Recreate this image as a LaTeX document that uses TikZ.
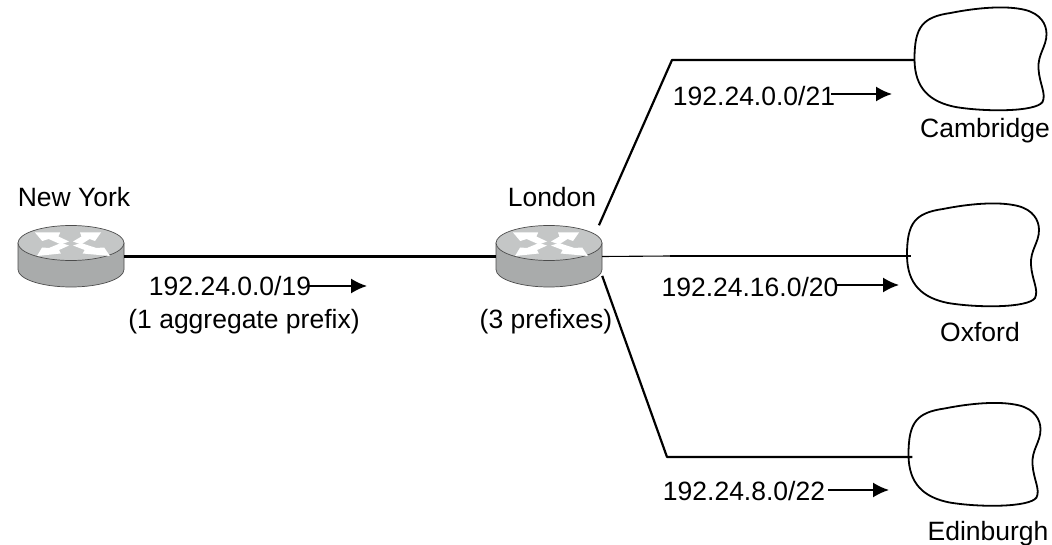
\documentclass[tikz,border=0pt]{standalone}
\usepackage{fontspec}
\setmainfont{Liberation Sans}
\usetikzlibrary{positioning, arrows.meta}
\definecolor{routertop}{HTML}{C4C6C6}
\definecolor{routerside}{HTML}{A9ABAB}
\tikzset{
  every node/.style={font=\fontsize{26.5}{30}\selectfont, inner sep=0pt},
  routerbox/.style={minimum width=106pt, minimum height=62pt},
  sitebox/.style={minimum width=132pt, minimum height=104pt},
  link/.style={line width=2.2pt},
  thinlink/.style={line width=1.1pt},
  flow/.style={line width=1.8pt, -{Latex[length=16pt,width=15pt]}},
  routericon/.pic={
    \draw[fill=routerside, draw=black!70, line width=.7pt] (-53,-13.5) -- (-53,13) arc[start angle=180, end angle=0, x radius=53, y radius=17.5] -- (53,-13.5) -- cycle;
    \draw[fill=routertop, draw=black!70, line width=.7pt] (0,-13.5) ellipse[x radius=53, y radius=17.5];
    \foreach \sx/\tx in {-1/36, 1/30} {
      \fill[white] (\sx*2,-15) -- (\sx*\tx*.35,-20) -- (\sx*\tx*.3,-24) -- (\sx*\tx,-24) -- (\sx*\tx*.8,-15.5) -- (\sx*\tx*.62,-17.5) -- (\sx*10,-12) -- cycle;
    }
    \foreach \sx/\tx in {-1/34, 1/39} {
      \fill[white] (\sx*2,-11) -- (\sx*\tx*.35,-6.5) -- (\sx*\tx*.3,-3) -- (\sx*\tx,-.5) -- (\sx*\tx*.85,-9) -- (\sx*\tx*.65,-8.5) -- (\sx*10,-13.5) -- cycle;
    }
  },
  siteblob/.pic={
    \draw[line width=1.8pt] (-66,0) .. controls (-66,-32) and (-58,-42) .. (-30,-46)
      .. controls (-5,-51) and (25,-54) .. (45,-49)
      .. controls (60,-45) and (66,-35) .. (66,-25)
      .. controls (66,-12) and (57,-5) .. (58,10)
      .. controls (59,25) and (66,35) .. (62,43)
      .. controls (55,53) and (5,53) .. (-25,48)
      .. controls (-50,43) and (-66,30) .. (-66,0) -- cycle;
  }
}

\begin{document}
\begin{tikzpicture}[x=1pt, y=-1pt]
  \useasboundingbox (0,0) rectangle (1052,545);

  \node[routerbox] (newyork) at (71,256.5) {};
  \node[routerbox] (london)  at (549,256.5) {};
  \node[sitebox]   (cambridge) at (980.5,59) {};
  \node[sitebox]   (oxford)    at (973,255) {};
  \node[sitebox]   (edinburgh) at (974.5,454.5) {};
  \pic at (newyork) {routericon};
  \pic at (london) {routericon};
  \pic at (cambridge) {siteblob};
  \pic at (oxford) {siteblob};
  \pic at (edinburgh) {siteblob};

  \node[above=18.5pt of newyork, xshift=3pt] (nylabel) {New York};
  \node[above=18.5pt of london, xshift=3pt] (londonlabel) {London};
  \node at (985,131) (camlabel) {Cambridge};
  \node at (980,332) (oxflabel) {Oxford};
  \node at (988,534) (edilabel) {Edinburgh};

  \node at (230,286) (nyprefix) {192.24.0.0/19};
  \node at (244,321.5) (nycount) {(1 aggregate prefix)};
  \node at (546,321.5) (londoncount) {(3 prefixes)};
  \node at (754,96) (camprefix) {192.24.0.0/21};
  \node at (750,287) (oxfprefix) {192.24.16.0/20};
  \node at (744,491) (ediprefix) {192.24.8.0/22};

  \coordinate (camturn) at (672,60);
  \coordinate (oxfturn) at (670,256);
  \coordinate (editurn) at (667,457);
  \coordinate (nyend)  at (367,286);
  \coordinate (camend) at (892,94);
  \coordinate (oxfend) at (899,285);
  \coordinate (ediend) at (889,490);

  \draw[link] (newyork.east) -- (london.west);
  \draw[thinlink] (london.east) -- (oxfturn);
  \draw[link] (oxfturn) -- (oxfturn -| oxford.west) -- ++(4,0);
  \draw[link, line join=round] (london.32) -- (camturn) -- (camturn -| cambridge.west);
  \draw[link, line join=round] (london.-20) -- (editurn) -- (editurn -| edinburgh.west) -- ++(4,0);

  \draw[flow] (nyprefix.east) ++(-2,0) coordinate (nystart) (nystart |- nyend) -- (nyend);
  \draw[flow] (camprefix.east) ++(-4,0) coordinate (camstart) (camstart |- camend) -- (camend);
  \draw[flow] (oxfprefix.east) ++(-2,0) coordinate (oxfstart) (oxfstart |- oxfend) -- (oxfend);
  \draw[flow] (ediprefix.east) ++(3,0) coordinate (edistart) (edistart |- ediend) -- (ediend);
\end{tikzpicture}
\end{document}
